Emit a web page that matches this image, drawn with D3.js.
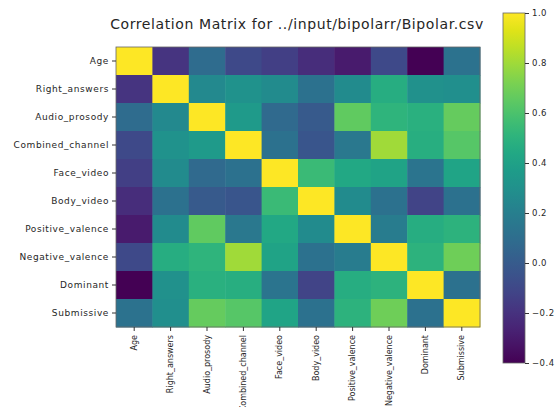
<!DOCTYPE html>
<html><head><meta charset="utf-8">
<script src="https://cdn.jsdelivr.net/npm/d3@7"></script>
<style>body{margin:0;background:#fff}svg{display:block}text{font-family:"DejaVu Sans",sans-serif;fill:#262626}</style>
</head><body><svg id="c" width="557" height="407"></svg>
<script>
const title = "Correlation Matrix for ../input/bipolarr/Bipolar.csv";
const variables = ["Age","Right_answers","Audio_prosody","Combined_channel","Face_video","Body_video","Positive_valence","Negative_valence","Dominant","Submissive"];
const corrAge              = [ 1.00,-0.19, 0.09,-0.09,-0.14,-0.22,-0.30,-0.09,-0.40, 0.13];
const corrRightAnswers     = [-0.19, 1.00, 0.26, 0.31, 0.27, 0.12, 0.27, 0.47, 0.30, 0.29];
const corrAudioProsody     = [ 0.09, 0.26, 1.00, 0.36, 0.08,-0.01, 0.66, 0.51, 0.49, 0.67];
const corrCombinedChannel  = [-0.09, 0.31, 0.36, 1.00, 0.12,-0.03, 0.16, 0.80, 0.48, 0.63];
const corrFaceVideo        = [-0.14, 0.27, 0.08, 0.12, 1.00, 0.55, 0.44, 0.41, 0.14, 0.42];
const corrBodyVideo        = [-0.22, 0.12,-0.01,-0.03, 0.55, 1.00, 0.27, 0.12,-0.12, 0.12];
const corrPositiveValence  = [-0.30, 0.27, 0.66, 0.16, 0.44, 0.27, 1.00, 0.18, 0.47, 0.50];
const corrNegativeValence  = [-0.09, 0.47, 0.51, 0.80, 0.41, 0.12, 0.18, 1.00, 0.50, 0.69];
const corrDominant         = [-0.40, 0.30, 0.49, 0.48, 0.14,-0.12, 0.47, 0.50, 1.00, 0.12];
const corrSubmissive       = [ 0.13, 0.29, 0.67, 0.63, 0.42, 0.12, 0.50, 0.69, 0.12, 1.00];
const colorbarTicks = [-0.4,-0.2,0.0,0.2,0.4,0.6,0.8,1.0];

const matrix = [corrAge,corrRightAnswers,corrAudioProsody,corrCombinedChannel,corrFaceVideo,corrBodyVideo,corrPositiveValence,corrNegativeValence,corrDominant,corrSubmissive];
const cells = [];
matrix.forEach((row,i)=>row.forEach((v,j)=>cells.push({r:variables[i],c:variables[j],v})));

const svg = d3.select("#c");
const M = {l:116, t:47, r:480, b:327};
const x = d3.scaleBand().domain(variables).range([M.l,M.r]);
const y = d3.scaleBand().domain(variables).range([M.t,M.b]);
const vmin = -0.4, vmax = 1.0;
const color = d3.scaleSequential(d3.interpolateViridis).domain([vmin,vmax]);

svg.append("g").selectAll("rect").data(cells).join("rect")
  .attr("x",d=>x(d.c)).attr("y",d=>y(d.r))
  .attr("width",x.bandwidth()+0.5).attr("height",y.bandwidth()+0.5)
  .attr("fill",d=>color(d.v));
svg.append("rect").attr("x",M.l).attr("y",M.t).attr("width",M.r-M.l).attr("height",M.b-M.t)
  .attr("fill","none").attr("stroke","#666").attr("stroke-width",0.8);

const ya = svg.append("g").attr("transform",`translate(${M.l},0)`)
  .call(d3.axisLeft(y).tickSize(4).tickPadding(3));
ya.select(".domain").remove();
ya.selectAll("text").attr("font-size",9).attr("letter-spacing",0.6).style("font-family","DejaVu Sans");
ya.selectAll("line").attr("stroke","#333");

const xa = svg.append("g").attr("transform",`translate(0,${M.b})`)
  .call(d3.axisBottom(x).tickSize(4).tickPadding(3));
xa.select(".domain").remove();
xa.selectAll("line").attr("stroke","#333");
xa.selectAll("text").attr("font-size",8).style("font-family","DejaVu Sans")
  .attr("transform","rotate(-90)").attr("text-anchor","end")
  .attr("x",-8).attr("y",0).attr("dy","0.32em");

// colorbar
const cb = {x:503, w:22, t:13, b:363};
const cy = d3.scaleLinear().domain([vmin,vmax]).range([cb.b,cb.t]);
const defs = svg.append("defs");
const grad = defs.append("linearGradient").attr("id","vg").attr("x1",0).attr("y1",1).attr("x2",0).attr("y2",0);
d3.range(0,1.0001,0.05).forEach(t=>grad.append("stop").attr("offset",t).attr("stop-color",d3.interpolateViridis(t)));
svg.append("rect").attr("x",cb.x).attr("y",cb.t).attr("width",cb.w).attr("height",cb.b-cb.t)
  .attr("fill","url(#vg)").attr("stroke","#666").attr("stroke-width",0.8);
const ca = svg.append("g").attr("transform",`translate(${cb.x+cb.w},0)`)
  .call(d3.axisRight(cy).tickValues(colorbarTicks).tickSize(4).tickPadding(3)
    .tickFormat(d=>d3.format(".1f")(d).replace("-","\u2212")));
ca.select(".domain").remove();
ca.selectAll("line").attr("stroke","#333");
ca.selectAll("text").attr("font-size",8.5).attr("letter-spacing",0.5).style("font-family","DejaVu Sans");

svg.append("text").attr("x",297).attr("y",29).attr("text-anchor","middle")
  .attr("font-size",14).attr("letter-spacing",0.6).text(title);
</script></body></html>
